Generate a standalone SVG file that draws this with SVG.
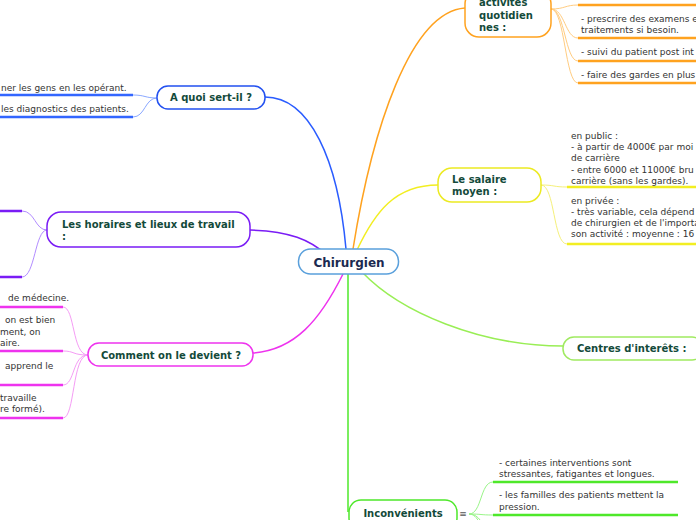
<svg xmlns="http://www.w3.org/2000/svg" width="696" height="520" viewBox="0 0 696 520">
<style>
.node{fill:#fff;stroke-width:1.5}
.nt{font-family:"DejaVu Sans",Verdana,sans-serif;font-weight:bold;font-size:10px;fill:#134a3a}
.lt{font-family:"DejaVu Sans",Verdana,sans-serif;font-size:9px;fill:#333}
.c{fill:none;stroke-width:1.5}
.t{fill:none;stroke-width:1}
.l{fill:none;stroke-width:2.5}
</style>
<rect width="696" height="520" fill="#fff"/>
<g id="connectors">
  <path class="c" stroke="#2a5cff" d="M346,249 C338,160 310,97 265,97"/>
  <path class="c" stroke="#ffa21f" d="M353,249 C372,130 410,12 465,8"/>
  <path class="c" stroke="#f2ee22" d="M357,250 C375,212 395,185 438,185"/>
  <path class="c" stroke="#7a1cf5" d="M327,255 C310,240 290,231 250,230"/>
  <path class="c" stroke="#ee33ee" d="M343,274 C320,320 295,350 253,353"/>
  <path class="c" stroke="#99ee55" d="M362,272 C400,312 480,346 563,346"/>
  <path class="c" stroke="#4ee82a" d="M348,274 L348,512"/>
  <path class="t" stroke="#8aa8ff" d="M157,98 C145,98 145,95 133,95"/>
  <path class="t" stroke="#8aa8ff" d="M157,98 C145,98 145,117 133,117"/>
  <path class="l" stroke="#3366ff" d="M0,95 H133 M0,117 H133"/>
  <path class="t" stroke="#b28cff" d="M47,230 C35,230 35,211 22,211"/>
  <path class="t" stroke="#b28cff" d="M47,230 C35,230 35,277 22,277"/>
  <path class="l" stroke="#7a1cf5" d="M0,211 H22 M0,277 H22"/>
  <path class="t" stroke="#f59cf5" d="M88,355 C72,355 75,307 63,307"/>
  <path class="t" stroke="#f59cf5" d="M88,355 C72,355 75,351 63,351"/>
  <path class="t" stroke="#f59cf5" d="M88,355 C72,355 75,385 63,385"/>
  <path class="t" stroke="#f59cf5" d="M88,355 C72,355 75,418 63,418"/>
  <path class="l" stroke="#ee33ee" d="M0,307 H63 M0,351 H63 M0,385 H63 M0,418 H63"/>
  <path class="t" stroke="#ffcc80" d="M551,9 C565,9 565,5 578,5"/>
  <path class="t" stroke="#ffcc80" d="M551,9 C565,9 565,38 578,38"/>
  <path class="t" stroke="#ffcc80" d="M551,9 C565,9 565,61 578,61"/>
  <path class="t" stroke="#ffcc80" d="M551,9 C565,9 565,83 578,83"/>
  <path class="l" stroke="#ffa21f" d="M578,5 H696 M578,38 H696 M578,61 H696 M578,83 H696"/>
  <path class="t" stroke="#f5f07a" d="M541,185 C555,185 553,187 567,187"/>
  <path class="t" stroke="#f5f07a" d="M541,185 C555,185 553,244 567,244"/>
  <path class="l" stroke="#f2ee22" d="M567,187 H696 M567,244 H696"/>
  <path class="t" stroke="#99f588" d="M469,514 C482,514 480,482 493,482"/>
  <path class="t" stroke="#99f588" d="M469,514 C482,514 480,515 493,515"/>
  <path class="t" stroke="#99f588" d="M469,514 C480,514 482,525 490,535"/>
  <path class="t" stroke="#99f588" d="M469,514 C478,514 482,528 485,540"/>
  <path class="l" stroke="#4ee82a" d="M493,482 H678 M493,515 H678"/>
</g>
<g id="chirurgien">
  <rect class="node" x="298.5" y="249" width="100" height="25" rx="12" stroke="#5aa0dc"/>
  <text x="349" y="266.5" text-anchor="middle" font-family="DejaVu Sans,Verdana,sans-serif" font-weight="bold" font-size="12" fill="#1b2a50">Chirurgien</text>
</g>
<g id="a-quoi">
  <rect class="node" x="157" y="86" width="108" height="23" rx="11" stroke="#2250f0"/>
  <text class="nt" x="211" y="101" text-anchor="middle">A quoi sert-il ?</text>
  <text class="lt" x="1" y="91">ner les gens en les opérant.</text>
  <text class="lt" x="1" y="112">les diagnostics des patients.</text>
</g>
<g id="horaires">
  <rect class="node" x="47" y="212" width="203" height="35" rx="14" stroke="#7a1cf5"/>
  <text class="nt" x="62" y="228">Les horaires et lieux de travail</text>
  <text class="nt" x="62" y="240">:</text>
</g>
<g id="comment">
  <rect class="node" x="88" y="343" width="165" height="23" rx="11" stroke="#ee33ee"/>
  <text class="nt" x="171" y="359" text-anchor="middle">Comment on le devient ?</text>
  <text class="lt" x="8" y="301">de médecine.</text>
  <text class="lt" x="5" y="323">on est bien</text>
  <text class="lt" x="0" y="335">ment, on</text>
  <text class="lt" x="0" y="346">aire.</text>
  <text class="lt" x="5" y="369">apprend le</text>
  <text class="lt" x="0" y="401">travaille</text>
  <text class="lt" x="0" y="412">re formé).</text>
</g>
<g id="activites">
  <rect class="node" x="465" y="-10" width="86" height="47" rx="14" stroke="#ffa21f"/>
  <text class="nt" x="479" y="6">activités</text>
  <text class="nt" x="479" y="19">quotidien</text>
  <text class="nt" x="479" y="31">nes :</text>
  <text class="lt" x="581" y="22">- prescrire des examens e</text>
  <text class="lt" x="581" y="33">traitements si besoin.</text>
  <text class="lt" x="581" y="55">- suivi du patient post int</text>
  <text class="lt" x="581" y="78">- faire des gardes en plus</text>
</g>
<g id="salaire">
  <rect class="node" x="438" y="168" width="103" height="34" rx="14" stroke="#ecea22"/>
  <text class="nt" x="452" y="183">Le salaire</text>
  <text class="nt" x="452" y="195">moyen :</text>
  <text class="lt" x="571" y="139">en public :</text>
  <text class="lt" x="571" y="150">- à partir de 4000€ par moi</text>
  <text class="lt" x="571" y="161">de carrière</text>
  <text class="lt" x="571" y="173">- entre 6000 et 11000€ bru</text>
  <text class="lt" x="571" y="184">carrière (sans les gardes).</text>
  <text class="lt" x="571" y="204">en privée :</text>
  <text class="lt" x="571" y="215">- très variable, cela dépend</text>
  <text class="lt" x="571" y="226">de chirurgien et de l'importa</text>
  <text class="lt" x="571" y="237">son activité : moyenne : 16</text>
</g>
<g id="centres">
  <rect class="node" x="563" y="337" width="140" height="23" rx="11" stroke="#a0ea60"/>
  <text class="nt" x="577" y="352">Centres d'interêts :</text>
</g>
<g id="inconvenients">
  <rect class="node" x="349" y="500" width="108" height="30" rx="12" stroke="#4ee82a"/>
  <text class="nt" x="403" y="517" text-anchor="middle">Inconvénients</text>
  <text x="463" y="517" text-anchor="middle" font-family="DejaVu Sans,sans-serif" font-size="9" fill="#555">≡</text>
  <text class="lt" x="499" y="466">- certaines interventions sont</text>
  <text class="lt" x="499" y="477">stressantes, fatigantes et longues.</text>
  <text class="lt" x="499" y="498">- les familles des patients mettent la</text>
  <text class="lt" x="499" y="510">pression.</text>
</g>
</svg>
